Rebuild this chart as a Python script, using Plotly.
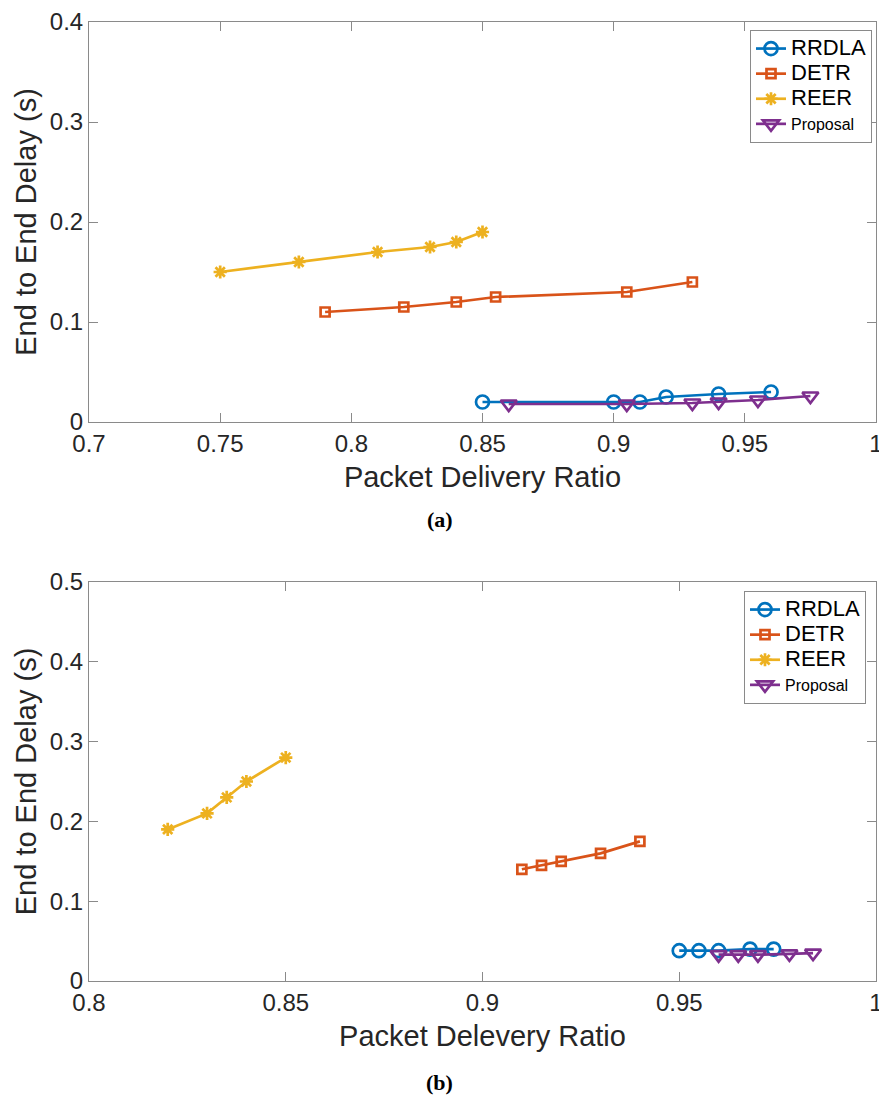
import plotly.graph_objects as go

# ---------------- data (a) ----------------
a_rrdla_x = [0.85, 0.90, 0.91, 0.92, 0.94, 0.96]
a_rrdla_y = [0.020, 0.020, 0.020, 0.025, 0.028, 0.030]
a_detr_x = [0.79, 0.82, 0.84, 0.855, 0.905, 0.93]
a_detr_y = [0.110, 0.115, 0.120, 0.125, 0.130, 0.140]
a_reer_x = [0.75, 0.78, 0.81, 0.83, 0.84, 0.85]
a_reer_y = [0.150, 0.160, 0.170, 0.175, 0.180, 0.190]
a_prop_x = [0.86, 0.905, 0.93, 0.94, 0.955, 0.975]
a_prop_y = [0.018, 0.018, 0.019, 0.020, 0.022, 0.026]

# ---------------- data (b) ----------------
b_rrdla_x = [0.95, 0.955, 0.96, 0.968, 0.974]
b_rrdla_y = [0.038, 0.038, 0.038, 0.040, 0.040]
b_detr_x = [0.91, 0.915, 0.92, 0.93, 0.94]
b_detr_y = [0.140, 0.145, 0.150, 0.160, 0.175]
b_reer_x = [0.82, 0.83, 0.835, 0.84, 0.85]
b_reer_y = [0.190, 0.210, 0.230, 0.250, 0.280]
b_prop_x = [0.96, 0.965, 0.97, 0.978, 0.984]
b_prop_y = [0.033, 0.033, 0.033, 0.034, 0.035]

# tick labels
a_xticks = [0.7, 0.75, 0.8, 0.85, 0.9, 0.95, 1.0]
a_xtext = ["0.7", "0.75", "0.8", "0.85", "0.9", "0.95", "1"]
a_yticks = [0, 0.1, 0.2, 0.3, 0.4]
a_ytext = ["0", "0.1", "0.2", "0.3", "0.4"]
b_xticks = [0.8, 0.85, 0.9, 0.95, 1.0]
b_xtext = ["0.8", "0.85", "0.9", "0.95", "1"]
b_yticks = [0, 0.1, 0.2, 0.3, 0.4, 0.5]
b_ytext = ["0", "0.1", "0.2", "0.3", "0.4", "0.5"]

names = ["<span style='font-size:22px'>RRDLA</span>",
         "<span style='font-size:22px'>DETR</span>",
         "<span style='font-size:22px'>REER</span>",
         "<span style='font-size:16px'>Proposal</span>"]
colors = ["#0072BD", "#D95319", "#EDB120", "#7E2F8E"]
symbols = ["circle-open", "square-open", "asterisk-open", "triangle-down-open"]
msizes = [13, 9, 11, 14]

fig = go.Figure()

def add_series(xs, ys, i, xa, ya, legend):
    fig.add_trace(go.Scatter(
        x=xs, y=ys, mode="lines+markers", name=names[i],
        xaxis=xa, yaxis=ya, legend=legend, cliponaxis=False,
        line=dict(color=colors[i], width=2.7),
        marker=dict(symbol=symbols[i], size=msizes[i], color=colors[i],
                    line=dict(color=colors[i], width=2.7)),
    ))

for i, (xs, ys) in enumerate([(a_rrdla_x, a_rrdla_y), (a_detr_x, a_detr_y),
                               (a_reer_x, a_reer_y), (a_prop_x, a_prop_y)]):
    add_series(xs, ys, i, "x", "y", "legend")
for i, (xs, ys) in enumerate([(b_rrdla_x, b_rrdla_y), (b_detr_x, b_detr_y),
                               (b_reer_x, b_reer_y), (b_prop_x, b_prop_y)]):
    add_series(xs, ys, i, "x2", "y2", "legend2")

W, H = 879, 1100
xdom = [89 / W, 876 / W]
ydom_a = [1 - 422 / H, 1 - 22 / H]
ydom_b = [1 - 981 / H, 1 - 582 / H]

axcol = "#8a8a8a"
tickfont = dict(family="Liberation Sans, Arial, sans-serif", size=24, color="#262626")
titlefont = dict(family="Liberation Sans, Arial, sans-serif", size=29, color="#262626")

def axis_common():
    return dict(showline=True, linecolor=axcol, linewidth=1, mirror="ticks",
                ticks="inside", ticklen=9, tickcolor=axcol, tickwidth=1,
                showgrid=False, zeroline=False, tickfont=tickfont,
                automargin=False, ticklabeloverflow="allow")

legfont = dict(family="Liberation Sans, Arial, sans-serif", size=17, color="black")

fig.update_layout(
    width=W, height=H, margin=dict(l=0, r=0, t=0, b=0),
    paper_bgcolor="white", plot_bgcolor="white",
    xaxis=dict(domain=xdom, anchor="y", range=[0.7, 1.0], tickvals=a_xticks, ticktext=a_xtext,
               title=dict(text="Packet Delivery Ratio", font=titlefont, standoff=10), **axis_common()),
    yaxis=dict(domain=ydom_a, anchor="x", range=[0, 0.4], tickvals=a_yticks, ticktext=a_ytext,
               title=dict(text="End to End Delay (s)", font=titlefont, standoff=4), **axis_common()),
    xaxis2=dict(domain=xdom, anchor="y2", range=[0.8, 1.0], tickvals=b_xticks, ticktext=b_xtext,
                title=dict(text="Packet Delevery Ratio", font=titlefont, standoff=10), **axis_common()),
    yaxis2=dict(domain=ydom_b, anchor="x2", range=[0, 0.5], tickvals=b_yticks, ticktext=b_ytext,
                title=dict(text="End to End Delay (s)", font=titlefont, standoff=4), **axis_common()),
    legend=dict(x=872 / W, y=1 - 30 / H, xanchor="right", yanchor="top",
                bgcolor="white", bordercolor="#8a8a8a", borderwidth=1,
                font=legfont, itemwidth=30, tracegroupgap=0),
    legend2=dict(x=866 / W, y=1 - 591 / H, xanchor="right", yanchor="top",
                 bgcolor="white", bordercolor="#8a8a8a", borderwidth=1,
                 font=legfont, itemwidth=30, tracegroupgap=0),
    annotations=[
        dict(text="<b>(a)</b>", x=0.5, y=1 - 520 / H, xref="paper", yref="paper",
             xanchor="center", yanchor="middle",
             showarrow=False, font=dict(family="Liberation Serif, serif", size=22, color="black")),
        dict(text="<b>(b)</b>", x=0.5, y=1 - 1082 / H, xref="paper", yref="paper",
             xanchor="center", yanchor="middle",
             showarrow=False, font=dict(family="Liberation Serif, serif", size=22, color="black")),
    ],
)

fig.write_html("out.html", config={"displayModeBar": False},
               post_script="document.body.style.margin='0';document.body.style.overflow='hidden';")
